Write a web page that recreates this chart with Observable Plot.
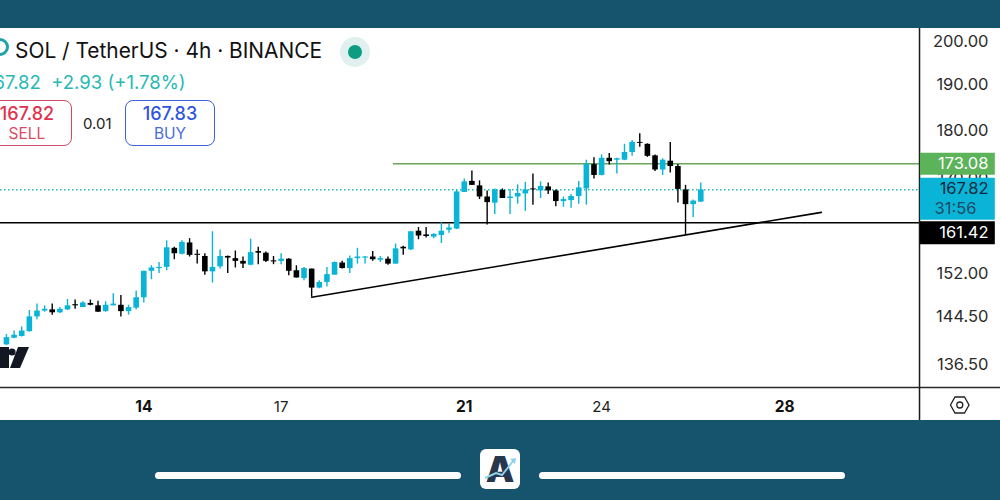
<!DOCTYPE html>
<html>
<head>
<meta charset="utf-8">
<script src="https://cdn.jsdelivr.net/npm/d3@7"></script>
<script src="https://cdn.jsdelivr.net/npm/@observablehq/plot@0.6"></script>
<style>
html,body{margin:0;padding:0;width:1000px;height:500px;overflow:hidden;background:#16546e;font-family:Inter,Roboto,sans-serif;}
#panel{position:absolute;left:0;top:28px;width:1000px;height:392px;background:#fff;}
#chart{position:absolute;left:0;top:0;}
#chart svg{background:transparent;display:block;}
.t{position:absolute;white-space:nowrap;line-height:1;}
.box{position:absolute;box-sizing:border-box;border:1.9px solid;border-radius:8px;background:#fff;}
.bar{position:absolute;top:472px;height:7px;width:306px;background:#fff;border-radius:4px;}
#logo{position:absolute;left:480px;top:449px;width:40px;height:40px;background:#fff;border-radius:6px;}
svg.ov{position:absolute;overflow:visible;}
</style>
</head>
<body>
<div id="panel"></div>
<div id="chart"></div>

<svg class="ov" style="left:0;top:38px" width="10" height="20"><circle cx="0" cy="9" r="7.5" fill="none" stroke="#1fa3a8" stroke-width="3"/></svg>
<div class="t" style="left:15px;top:41px;font-size:20.9px;color:#111;">SOL / TetherUS · 4h · BINANCE</div>
<svg class="ov" style="left:340px;top:37px" width="30" height="30"><circle cx="15" cy="15" r="15" fill="#dff0ee"/><circle cx="15" cy="15" r="7" fill="#0d9c82"/></svg>
<div class="t" style="left:-14px;top:73px;font-size:18.5px;color:#26b9b4">167.82&nbsp; +2.93 (+1.78%)</div>
<div class="box" style="left:-30px;top:100px;width:102px;height:46px;border-color:#cf4a63"></div>
<div class="t" style="left:-30px;width:102px;padding-left:12px;box-sizing:border-box;text-align:center;top:105px;font-size:18px;font-weight:500;color:#e2304f">167.82</div>
<div class="t" style="left:-30px;width:102px;padding-left:12px;box-sizing:border-box;text-align:center;top:126px;font-size:15.5px;color:#dd4a64">SELL</div>
<div class="t" style="left:83px;top:116px;font-size:15px;color:#222">0.01</div>
<div class="box" style="left:125px;top:100px;width:90px;height:46px;border-color:#3f62d8"></div>
<div class="t" style="left:125px;width:90px;text-align:center;top:105px;font-size:18px;font-weight:500;color:#2f55e0">167.83</div>
<div class="t" style="left:125px;width:90px;text-align:center;top:126px;font-size:15.5px;color:#4a6bdc">BUY</div>

<svg class="ov" style="left:0;top:347px" width="30" height="22"><rect x="-4" y="0" width="13" height="21" fill="#131722"/><circle cx="12" cy="5" r="3.6" fill="#131722"/><path d="M18 0H29L20 21H10Z" fill="#131722"/></svg>
<svg class="ov" style="left:949px;top:395px" width="22" height="20"><path d="M6 2H15.5L20 10L15.5 18H6L1.5 10Z" fill="none" stroke="#222" stroke-width="1.3"/><circle cx="10.8" cy="10" r="3" fill="none" stroke="#222" stroke-width="1.3"/></svg>

<div class="bar" style="left:155px"></div>
<div class="bar" style="left:539px"></div>
<div id="logo">
  <div class="t" style="left:2px;width:36px;text-align:center;top:2px;font-size:36px;font-weight:900;color:#27374d">A</div>
  <svg class="ov" style="left:0;top:0" width="40" height="40"><path d="M5 29L16 24L22 26L34 11" fill="none" stroke="#8fd3ea" stroke-width="2"/><path d="M30 10L36 9L35 15Z" fill="#8fd3ea"/></svg>
</div>

<script>
const opens = [139.7,140.8,141.1,141.9,144.4,145.4,145.6,145.1,145.6,146.5,
146.0,146.7,146.3,145.3,146.3,146.4,145.3,145.9,147.7,152.4,
152.9,153.1,156.6,155.5,157.6,155.5,155.1,152.3,153.2,155.1,
154.7,154.2,153.5,156.0,155.7,154.3,154.2,154.6,152.5,151.1,
152.8,149.4,150.4,151.7,153.9,152.9,154.7,154.8,155.0,154.4,
154.6,153.7,156.8,156.3,159.8,159.1,158.7,159.0,160.0,160.2,
167.3,169.5,168.6,166.4,165.2,167.7,166.1,166.4,167.0,168.0,
167.6,168.4,167.6,165.5,165.7,166.5,168.0,172.9,170.7,174.2,
173.8,173.8,175.4,177.5,177.1,174.7,171.8,173.6,172.5,167.8,
164.9,165.4];
const highs = [141.4,142.0,142.7,145.5,146.6,146.3,146.6,146.0,147.4,147.3,
147.0,147.3,147.1,147.0,148.4,148.1,146.4,148.9,152.4,153.4,
154.0,158.0,156.8,158.0,158.4,156.3,155.6,159.7,156.3,155.2,
156.1,155.0,158.3,156.8,155.9,155.1,155.6,154.7,153.4,153.1,
152.8,150.7,153.1,154.1,154.2,155.2,156.6,155.1,156.0,155.1,
155.0,157.4,157.0,159.7,160.5,160.5,159.3,161.4,161.1,167.7,
170.0,171.6,169.6,167.6,168.0,168.0,167.9,168.8,169.3,171.0,
169.4,169.2,167.8,166.4,166.9,169.5,173.8,174.3,174.9,175.2,
174.2,177.1,177.9,179.3,177.2,174.9,174.1,177.5,172.9,168.7,
165.8,169.2];
const lows = [139.6,140.7,141.0,141.8,143.9,145.2,144.7,145.0,145.5,145.7,
146.0,146.3,145.2,145.2,146.3,144.4,144.7,145.6,146.8,150.9,
152.0,152.5,154.5,155.4,155.0,153.7,151.7,150.3,152.8,152.0,
153.0,152.9,153.4,153.6,154.0,153.6,153.6,151.6,151.2,150.7,
147.8,149.3,149.6,151.7,152.8,152.0,153.7,153.7,154.2,154.0,
153.5,153.7,155.3,156.2,158.2,158.5,158.4,157.5,159.4,160.1,
167.3,168.7,165.9,161.0,163.0,166.1,163.0,165.0,163.6,164.8,
166.1,166.9,164.5,164.4,164.2,165.0,164.8,170.0,170.6,172.8,
171.0,173.7,174.6,176.5,174.4,171.5,170.7,171.2,165.2,159.0,
162.4,165.3];
const closes = [140.9,141.3,142.0,144.4,145.4,145.7,145.1,145.7,146.3,146.3,
146.8,146.4,145.2,146.4,146.6,145.3,146.0,147.7,152.4,153.0,
153.1,156.7,155.6,157.7,155.3,155.3,152.3,153.1,155.1,154.8,
154.2,153.7,155.8,155.7,154.2,154.1,154.6,152.4,151.2,152.9,
149.4,150.4,151.8,154.0,152.9,154.7,155.0,155.0,154.5,154.7,
153.7,156.5,156.5,159.7,158.9,158.8,159.2,159.8,160.4,167.4,
169.4,168.7,166.4,165.3,167.8,166.1,166.4,167.1,167.8,167.8,
168.5,167.6,165.5,165.9,166.5,168.2,173.0,170.7,174.2,173.5,
174.1,175.4,177.5,177.3,174.6,171.8,173.8,172.5,167.9,164.9,
165.6,167.8];

const firstDay = 11;             // first visible candle: day 11, 00:00
const candlesPerDay = 6;         // 4h candles
const priceTicks = [200,190,180,170,152,144.5,136.5];
const dayTicksBold = [14,21,28];
const dayTicksPlain = [17,24];
const resistance = 173.08;
const support = 161.42;
const lastPrice = 167.82;
const trendDays = [17.667,28.8];
const trendPrices = [147.8,163.4];
const resistanceStartDay = 19.454;
const countdown = "31:56";

const xDomain = [10.87,32.713];
const scaleEndDay = 30.944;      // where the price scale begins
const tagEndDay = 32.6;
const yTop = 200, yBottom = 132.83;

const candles = opens.map((o,i)=>({
  day:firstDay+i/candlesPerDay,o,h:highs[i],l:lows[i],c:closes[i]
}));
const CY="#0ab4d6", BK="#000000";
const col=d=>d.c>=d.o?CY:BK;
const trend=trendDays.map((d,i)=>({d,p:trendPrices[i]}));
const fmt=d3.format(".2f");
const tagFont={fontFamily:"Inter,Roboto,sans-serif",fontSize:16.5};

const chart=Plot.plot({
  width:1000,height:500,
  marginLeft:0,marginRight:0,marginTop:28,marginBottom:80,
  style:{background:"transparent",overflow:"visible"},
  x:{domain:xDomain,range:[0,1000],axis:null},
  y:{type:"log",domain:[yTop,yBottom],range:[41,387],axis:null},
  marks:[
    Plot.ruleY([lastPrice],{x1:xDomain[0],x2:scaleEndDay,stroke:"#1fb7c0",strokeWidth:1.5,strokeDasharray:"1.5 2.5"}),
    Plot.ruleY([resistance],{x1:resistanceStartDay,x2:scaleEndDay,stroke:"#6aa75a",strokeWidth:1.5}),
    Plot.ruleY([support],{x1:xDomain[0],x2:scaleEndDay,stroke:"#000",strokeWidth:1.6}),
    Plot.ruleX(candles,{x:"day",y1:"l",y2:"h",stroke:col,strokeWidth:1.4}),
    Plot.ruleX(candles,{x:"day",y1:"o",y2:"c",stroke:col,strokeWidth:5.6}),
    Plot.line(trend,{x:"d",y:"p",stroke:"#000",strokeWidth:1.6}),
    Plot.ruleY([yBottom],{stroke:"#2a2a2a",strokeWidth:1.4}),
    Plot.ruleX([scaleEndDay],{stroke:"#1a1a1a",strokeWidth:1.5}),
    Plot.text(priceTicks,{y:d=>d,text:fmt,frameAnchor:"right",textAnchor:"end",dx:-12,fill:"#2b2b2b",...tagFont}),
    Plot.text(dayTicksBold,{x:d=>d,text:String,frameAnchor:"bottom",dy:-9,fill:"#111",fontWeight:700,fontFamily:tagFont.fontFamily,fontSize:15.5}),
    Plot.text(dayTicksPlain,{x:d=>d,text:String,frameAnchor:"bottom",dy:-9,fill:"#222",fontFamily:tagFont.fontFamily,fontSize:15}),
    // price tags on the scale
    Plot.ruleY([resistance],{x1:scaleEndDay+0.02,x2:tagEndDay,stroke:"#5cb35a",strokeWidth:22}),
    Plot.ruleY([lastPrice],{x1:scaleEndDay+0.02,x2:tagEndDay,stroke:"#0ab4d6",strokeWidth:42,dy:9}),
    Plot.ruleY([support],{x1:scaleEndDay+0.02,x2:tagEndDay,stroke:"#000",strokeWidth:23,dy:10}),
    Plot.text([resistance],{y:d=>d,text:fmt,frameAnchor:"right",textAnchor:"end",dx:-12,fill:"#fff",...tagFont}),
    Plot.text([lastPrice],{y:d=>d,text:fmt,frameAnchor:"right",textAnchor:"end",dx:-12,dy:-1,fill:"#10283c",...tagFont}),
    Plot.text([lastPrice],{y:d=>d,text:()=>countdown,frameAnchor:"right",textAnchor:"end",dx:-24,dy:19,fill:"#1c4a66",...tagFont}),
    Plot.text([support],{y:d=>d,text:fmt,frameAnchor:"right",textAnchor:"end",dx:-12,dy:10,fill:"#fff",...tagFont})
  ]
});
document.getElementById("chart").appendChild(chart);
</script>
</body>
</html>
